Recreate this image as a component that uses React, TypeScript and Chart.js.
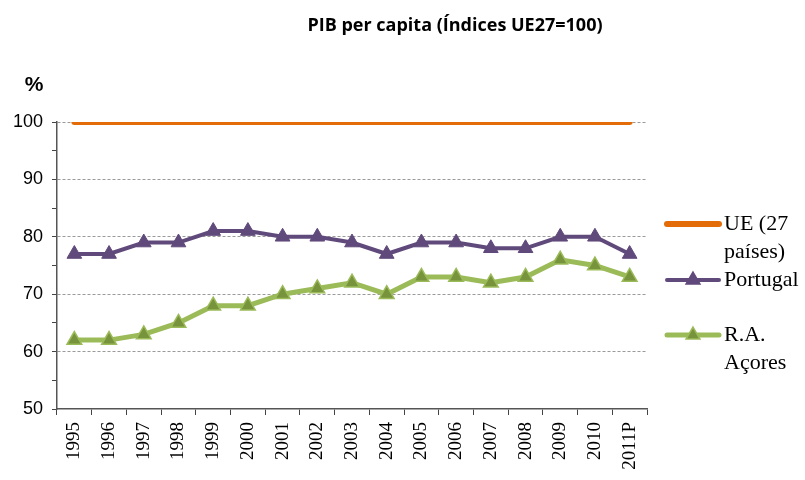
import React, { useEffect, useRef } from "react";
import { Chart, registerables } from "chart.js";

Chart.register(...registerables);

const categories = ["1995", "1996", "1997", "1998", "1999", "2000", "2001", "2002", "2003", "2004", "2005", "2006", "2007", "2008", "2009", "2010", "2011P"];
const ueValues = [100, 100, 100, 100, 100, 100, 100, 100, 100, 100, 100, 100, 100, 100, 100, 100, 100];
const portugalValues = [77, 77, 79, 79, 81, 81, 80, 80, 79, 77, 79, 79, 78, 78, 80, 80, 77];
const acoresValues = [62, 62, 63, 65, 68, 68, 70, 71, 72, 70, 73, 73, 72, 73, 76, 75, 73];
const seriesNames = ["UE (27\npaíses)", "Portugal", "R.A.\nAçores"];
const titleText = "PIB per capita (Índices UE27=100)";
const unitText = "%";

const ORANGE = "#E36C09";
const PURPLE = "#604A7B";
const GREEN = "#9BBB59";
const GREEN_DARK = "#77933C";

const overlayPlugin = {
  id: "overlay",
  afterDraw(chart: any) {
    const ctx = chart.ctx as CanvasRenderingContext2D;
    ctx.save();
    // title
    ctx.fillStyle = "#000";
    ctx.font = "bold 18px 'Open Sans'";
    ctx.textAlign = "center";
    ctx.textBaseline = "middle";
    ctx.fillText(titleText, 455, 26);
    // unit
    ctx.font = "bold 21px 'Liberation Sans'";
    ctx.fillText(unitText, 34, 85);
    // legend
    const items = [
      { y: 224, color: ORANGE, width: 6, marker: null as any, fill: "" },
      { y: 280, color: PURPLE, width: 4, marker: true, fill: PURPLE },
      { y: 335, color: GREEN, width: 5, marker: true, fill: GREEN_DARK },
    ];
    items.forEach((it, i) => {
      ctx.strokeStyle = it.color;
      ctx.lineWidth = it.width;
      ctx.lineCap = "round";
      ctx.beginPath();
      ctx.moveTo(667, it.y);
      ctx.lineTo(719, it.y);
      ctx.stroke();
      if (it.marker) {
        const r = 8;
        const cx = 693;
        ctx.beginPath();
        ctx.moveTo(cx, it.y - r);
        ctx.lineTo(cx + r * Math.sin(Math.PI / 3), it.y + r * 0.5);
        ctx.lineTo(cx - r * Math.sin(Math.PI / 3), it.y + r * 0.5);
        ctx.closePath();
        ctx.fillStyle = it.fill;
        ctx.fill();
        ctx.lineWidth = 1.5;
        ctx.lineCap = "butt";
        ctx.strokeStyle = it.color;
        ctx.stroke();
      }
      ctx.fillStyle = "#000";
      ctx.font = "22px 'Liberation Serif'";
      ctx.textAlign = "left";
      ctx.textBaseline = "middle";
      const lines = seriesNames[i].split("\n");
      lines.forEach((ln, j) => ctx.fillText(ln, 724, it.y + j * 28));
    });
    ctx.restore();
  },
};

export default function App() {
  const ref = useRef<HTMLCanvasElement | null>(null);
  useEffect(() => {
    if (!ref.current) return;
    const chart = new Chart(ref.current, {
      type: "line",
      data: {
        labels: categories,
        datasets: [
          {
            label: "UE (27 países)",
            data: ueValues,
            borderColor: ORANGE,
            backgroundColor: ORANGE,
            borderWidth: 6,
            borderCapStyle: "round",
            pointRadius: 0,
            pointHoverRadius: 0,
          },
          {
            label: "Portugal",
            data: portugalValues,
            borderColor: PURPLE,
            backgroundColor: PURPLE,
            borderWidth: 4,
            pointStyle: "triangle",
            pointRadius: 8.5,
            pointBackgroundColor: PURPLE,
            pointBorderColor: PURPLE,
            pointBorderWidth: 1,
          },
          {
            label: "R.A. Açores",
            data: acoresValues,
            borderColor: GREEN,
            backgroundColor: GREEN,
            borderWidth: 5,
            pointStyle: "triangle",
            pointRadius: 8.5,
            pointBackgroundColor: GREEN_DARK,
            pointBorderColor: GREEN,
            pointBorderWidth: 1.5,
          },
        ],
      },
      options: {
        responsive: false,
        animation: false,
        devicePixelRatio: 1,
        layout: { padding: { top: 122, left: 0, right: 158, bottom: 0 } },
        plugins: {
          legend: { display: false },
          title: { display: false },
          tooltip: { enabled: false },
        },
        scales: {
          x: {
            offset: true,
            afterFit: (s: any) => {
              s.height = 71;
            },
            grid: {
              offset: true,
              drawOnChartArea: false,
              drawTicks: true,
              tickLength: 6,
              tickColor: "#444",
              tickWidth: 1,
            },
            border: { display: true, color: "#555", width: 1.5 },
            ticks: {
              autoSkip: false,
              maxRotation: 90,
              minRotation: 90,
              padding: 7,
              color: "#000",
              font: { family: "'Liberation Serif'", size: 19 },
            },
          },
          y: {
            min: 50,
            max: 100,
            afterFit: (s: any) => {
              s.width = 57;
            },
            ticks: {
              stepSize: 5,
              padding: 9,
              color: "#000",
              font: { family: "'Liberation Sans'", size: 18 },
              callback: (v: any) => (Number(v) % 10 === 0 ? String(v) : ""),
            },
            grid: {
              color: (c: any) => {
                const v = c.tick ? c.tick.value : 0;
                return v % 10 === 0 && v > 50 ? "#9a9a9a" : "rgba(0,0,0,0)";
              },
              lineWidth: 1,
              drawTicks: true,
              tickLength: 5,
              tickColor: "#444",
              tickBorderDash: [],
            },
            border: { display: true, color: "#555", width: 1.5, dash: [3, 2] },
          },
        },
      },
      plugins: [overlayPlugin],
    } as any);
    return () => chart.destroy();
  }, []);
  return (
    <div style={{ position: "absolute", left: 0, top: 0, width: 805, height: 480, background: "#fff" }}>
      <canvas ref={ref} width={805} height={480} style={{ width: 805, height: 480, display: "block" }} />
    </div>
  );
}
